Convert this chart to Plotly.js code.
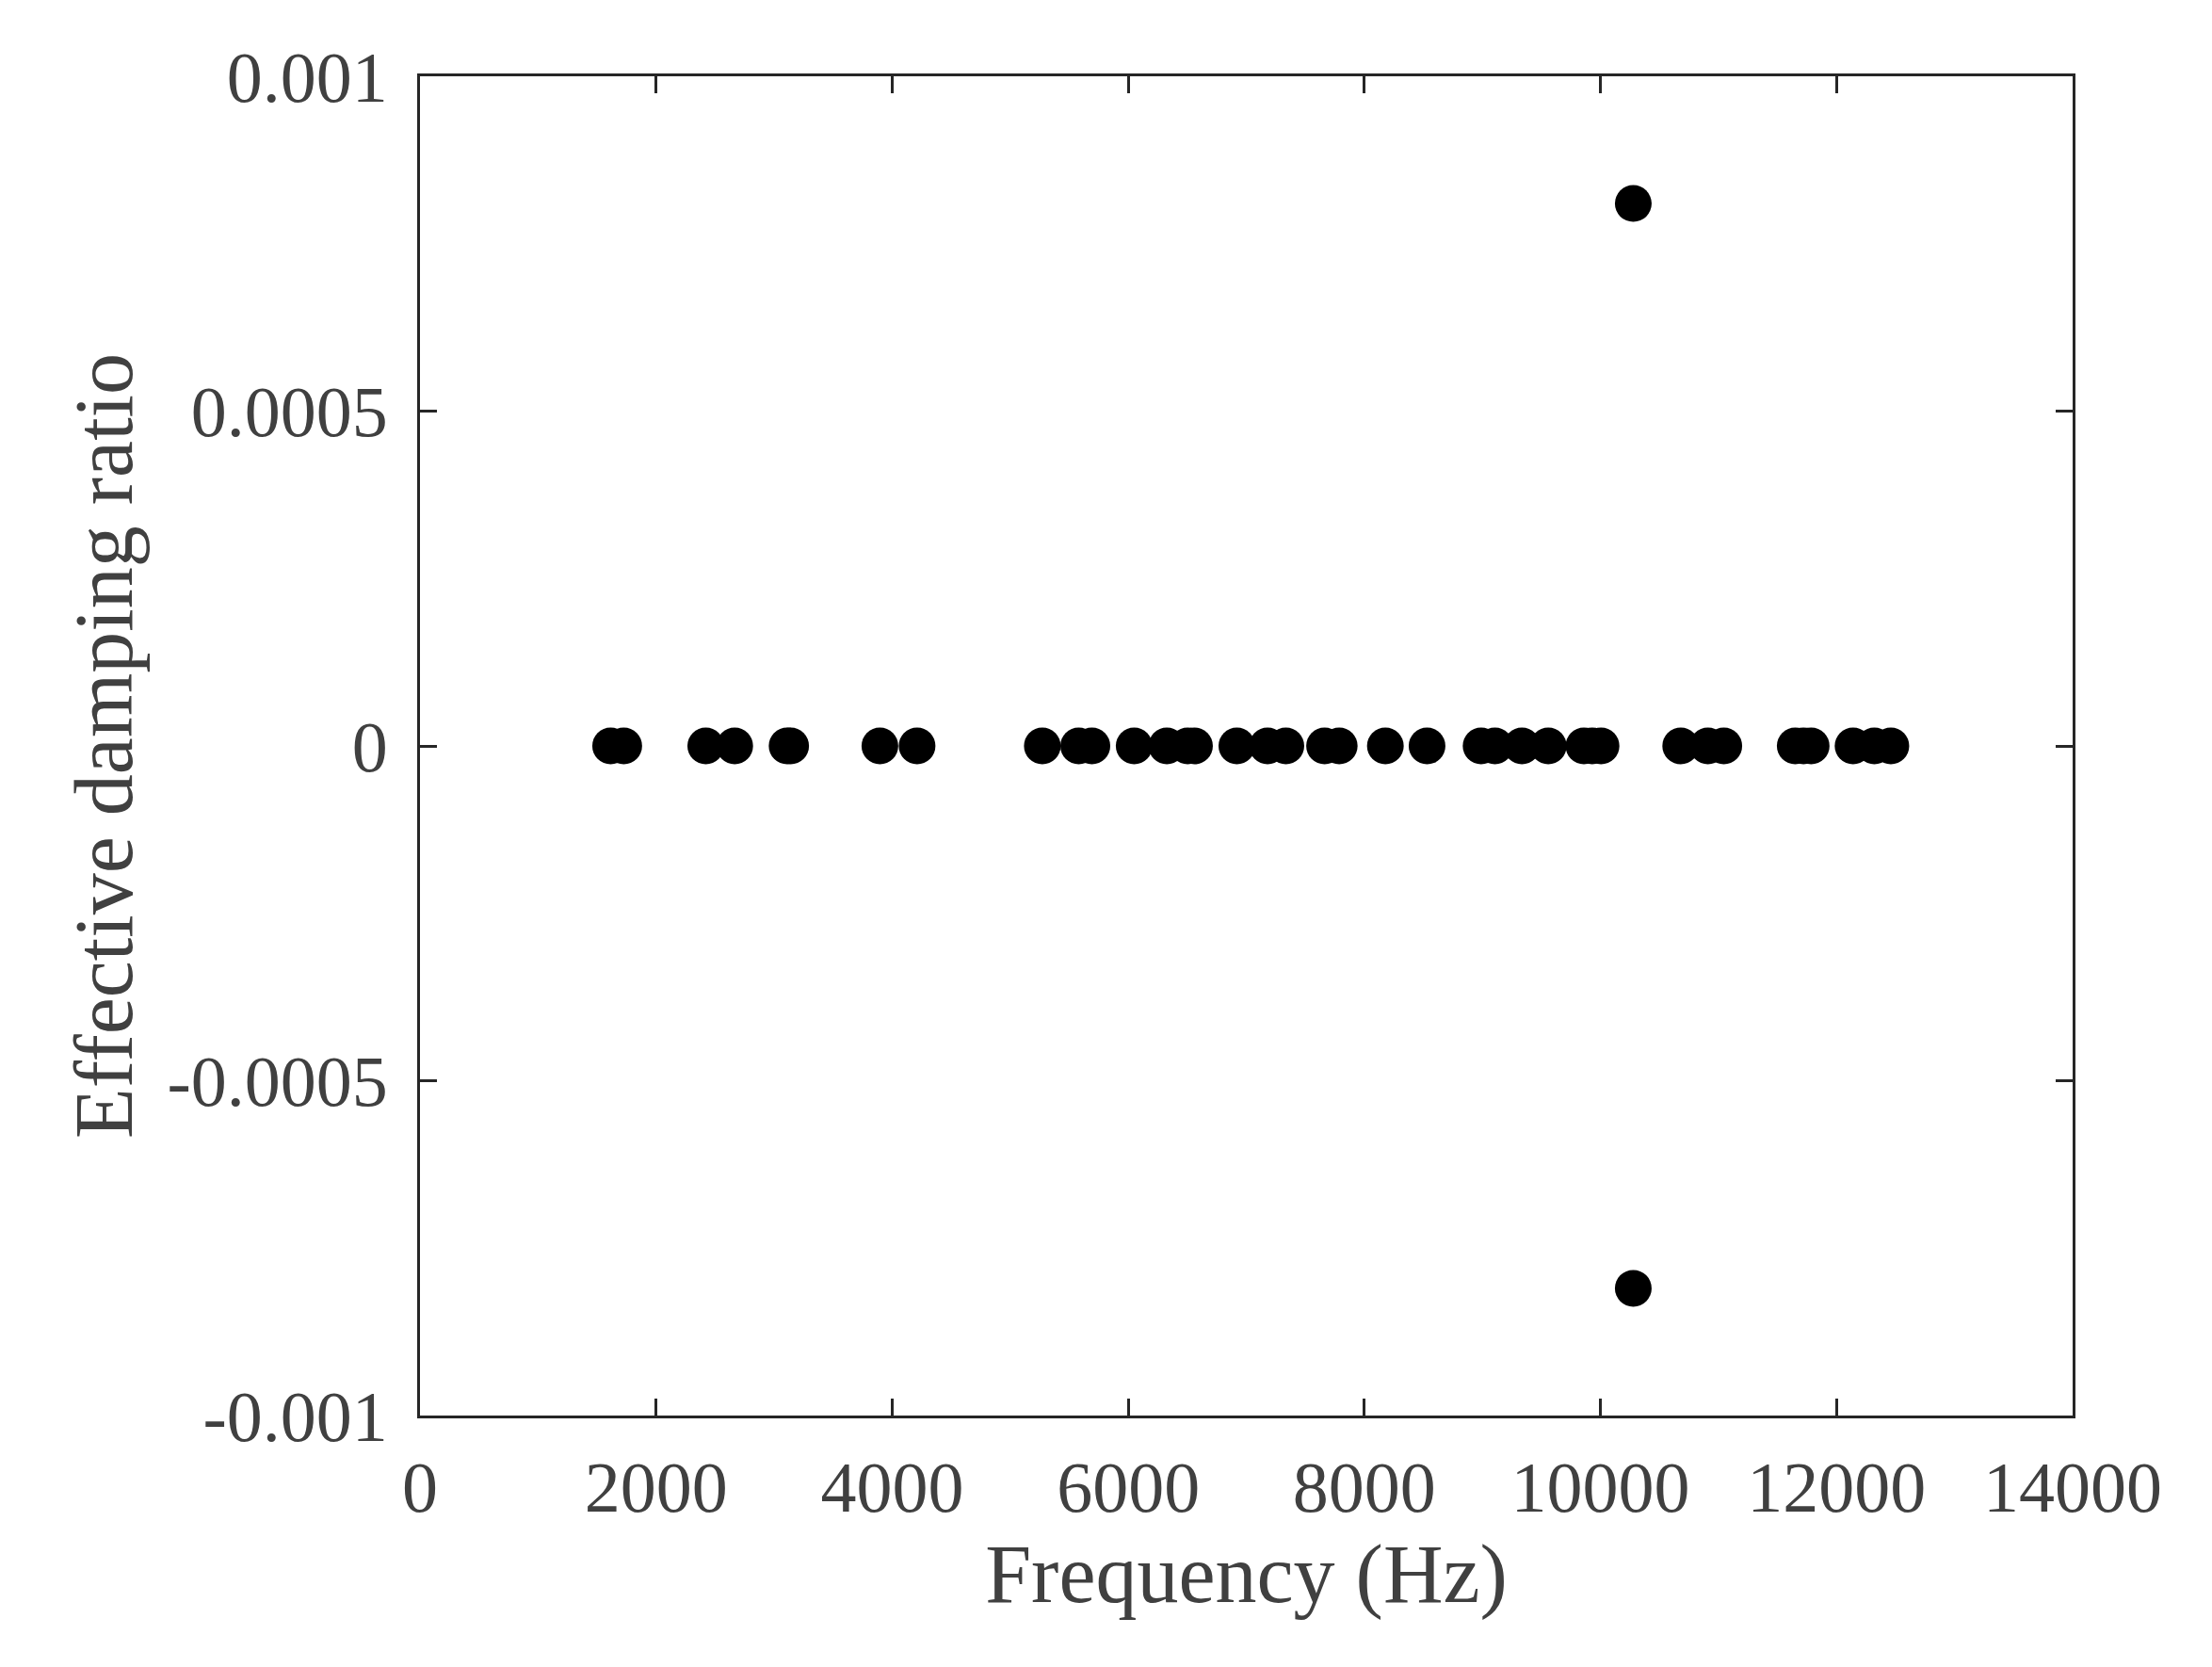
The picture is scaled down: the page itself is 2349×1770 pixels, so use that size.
<!DOCTYPE html>
<html>
<head>
<meta charset="utf-8">
<script src="https://cdn.plot.ly/plotly-3.0.1.min.js"></script>
<style>html,body{margin:0;padding:0;background:#fff;}#chart{width:2349px;height:1770px;}</style>
</head>
<body>
<div id="chart"></div>
<script>
// Modal frequencies (Hz)
const frequency = [1615, 1726, 2421, 2666, 3110, 3140, 3896, 4211, 5272, 5580, 5692,
  6050, 6327, 6503, 6561, 6920, 7180, 7335, 7663, 7787, 8178, 8531,
  8989, 9106, 9335, 9558, 9860, 9930, 10005, 10278, 10278,
  10680, 10910, 11045, 11650, 11720, 11785, 12140, 12320, 12460];
// Effective damping ratio of each mode
const dampingRatio = [0, 0, 0, 0, 0, 0, 0, 0, 0, 0, 0,
  0, 0, 0, 0, 0, 0, 0, 0, 0, 0, 0,
  0, 0, 0, 0, 0, 0, 0, 0.00081, -0.00081,
  0, 0, 0, 0, 0, 0, 0, 0, 0];

const xTickVals = [0, 2000, 4000, 6000, 8000, 10000, 12000, 14000];
const xTickText = ['0', '2000', '4000', '6000', '8000', '10000', '12000', '14000'];
const yTickVals = [-0.001, -0.0005, 0, 0.0005, 0.001];
const yTickText = ['-0.001', '-0.0005', '0', '0.0005', '0.001'];

const fontFamily = '"Liberation Serif", "Times New Roman", serif';
const textColor = '#404040';
const axisColor = '#262626';

const trace = {
  x: frequency,
  y: dampingRatio,
  type: 'scatter',
  mode: 'markers',
  marker: {color: '#000000', size: 39, line: {width: 0}},
  hoverinfo: 'x+y'
};

const commonAxis = {
  showgrid: false,
  zeroline: false,
  showline: true,
  linecolor: axisColor,
  linewidth: 3,
  mirror: 'ticks',
  ticks: 'inside',
  ticklen: 18,
  tickwidth: 3,
  tickcolor: axisColor,
  tickfont: {family: fontFamily, size: 76, color: textColor},
  tickmode: 'array'
};

const layout = {
  width: 2349,
  height: 1770,
  paper_bgcolor: '#ffffff',
  plot_bgcolor: '#ffffff',
  showlegend: false,
  margin: {l: 446, r: 148, t: 81, b: 267},
  xaxis: Object.assign({}, commonAxis, {
    range: [0, 14000],
    tickvals: xTickVals,
    ticktext: xTickText,
    ticklabelstandoff: 8,
    title: {text: 'Frequency (Hz)', font: {family: fontFamily, size: 88, color: textColor}, standoff: 20}
  }),
  yaxis: Object.assign({}, commonAxis, {
    range: [-0.001, 0.001],
    tickvals: yTickVals,
    ticktext: yTickText,
    ticklabelstandoff: 16,
    title: {text: 'Effective damping ratio', font: {family: fontFamily, size: 88, color: textColor}, standoff: 8}
  })
};

Plotly.newPlot('chart', [trace], layout, {staticPlot: true, displayModeBar: false});
</script>
</body>
</html>
